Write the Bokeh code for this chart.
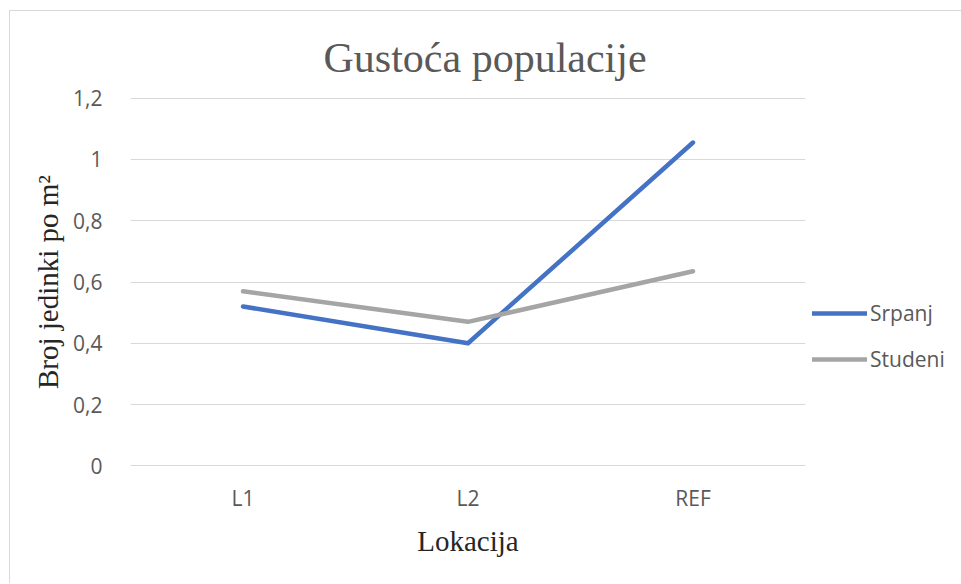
from bokeh.plotting import figure
from bokeh.models import Legend, LegendItem, FixedTicker, Range1d
from bokeh.embed import file_html
from bokeh.resources import INLINE

categories = ["L1", "L2", "REF"]
srpanj = [0.52, 0.40, 1.055]
studeni = [0.57, 0.47, 0.635]
y_ticks = [0, 0.2, 0.4, 0.6, 0.8, 1.0, 1.2]
y_tick_labels = ["0", "0,2", "0,4", "0,6", "0,8", "1", "1,2"]

p = figure(frame_width=675, frame_height=369, x_range=categories, y_range=Range1d(-0.002, 1.202),
           output_backend="svg", toolbar_location=None,
           min_border_left=120, min_border_right=155, min_border_top=86, min_border_bottom=117)
p.styles = {"margin-left": "9px", "margin-top": "10px",
            "border-left": "1px solid #d9d9d9", "border-top": "1px solid #d9d9d9"}
p.outline_line_color = None
p.background_fill_color = "white"
p.border_fill_color = "white"

r1 = p.line(categories, srpanj, line_width=4.5, line_color="#4472C4", line_cap="round", line_join="round")
r2 = p.line(categories, studeni, line_width=4.5, line_color="#A5A5A5", line_cap="round", line_join="round")

p.xgrid.grid_line_color = None
p.ygrid.grid_line_color = "#d9d9d9"
p.ygrid.grid_line_width = 1

p.yaxis.ticker = FixedTicker(ticks=y_ticks)
p.yaxis.major_label_overrides = {t: l for t, l in zip(y_ticks, y_tick_labels)}
for ax in (p.xaxis[0], p.yaxis[0]):
    ax.axis_line_color = None
    ax.major_tick_line_color = None
    ax.minor_tick_line_color = None
    ax.major_label_text_font = "Open Sans"
    ax.major_label_text_font_size = "21px"
    ax.major_label_text_color = "#595959"
    ax.axis_label_text_font = "Liberation Serif"
    ax.axis_label_text_font_size = "29px"
    ax.axis_label_text_font_style = "normal"
    ax.axis_label_text_color = "#262626"
p.yaxis.major_label_standoff = 22
p.yaxis.axis_label = "Broj jedinki po m²"
p.yaxis.axis_label_standoff = 6
p.xaxis.major_label_standoff = 11
p.xaxis.axis_label = "Lokacija"
p.xaxis.axis_label_standoff = 10
p.x_range.range_padding = 0

p.title.text = "Gustoća populacije"
p.title.text_font = "Liberation Serif"
p.title.text_font_size = "42px"
p.title.text_font_style = "normal"
p.title.text_color = "#595959"
p.title.align = "left"
p.title.offset = 193
p.title.standoff = 34

legend = Legend(items=[LegendItem(label="Srpanj", renderers=[r1]),
                       LegendItem(label="Studeni", renderers=[r2])],
                location="top_left", glyph_width=55, glyph_height=20, label_height=20,
                label_standoff=3, spacing=18, padding=0, margin=7,
                title=" ", title_text_font_size="2px", title_standoff=193,
                label_text_font="Open Sans", label_text_font_size="21px",
                label_text_color="#595959", background_fill_alpha=0,
                border_line_color=None)
p.add_layout(legend, "right")

open("out.html", "w").write(file_html(p, INLINE))
